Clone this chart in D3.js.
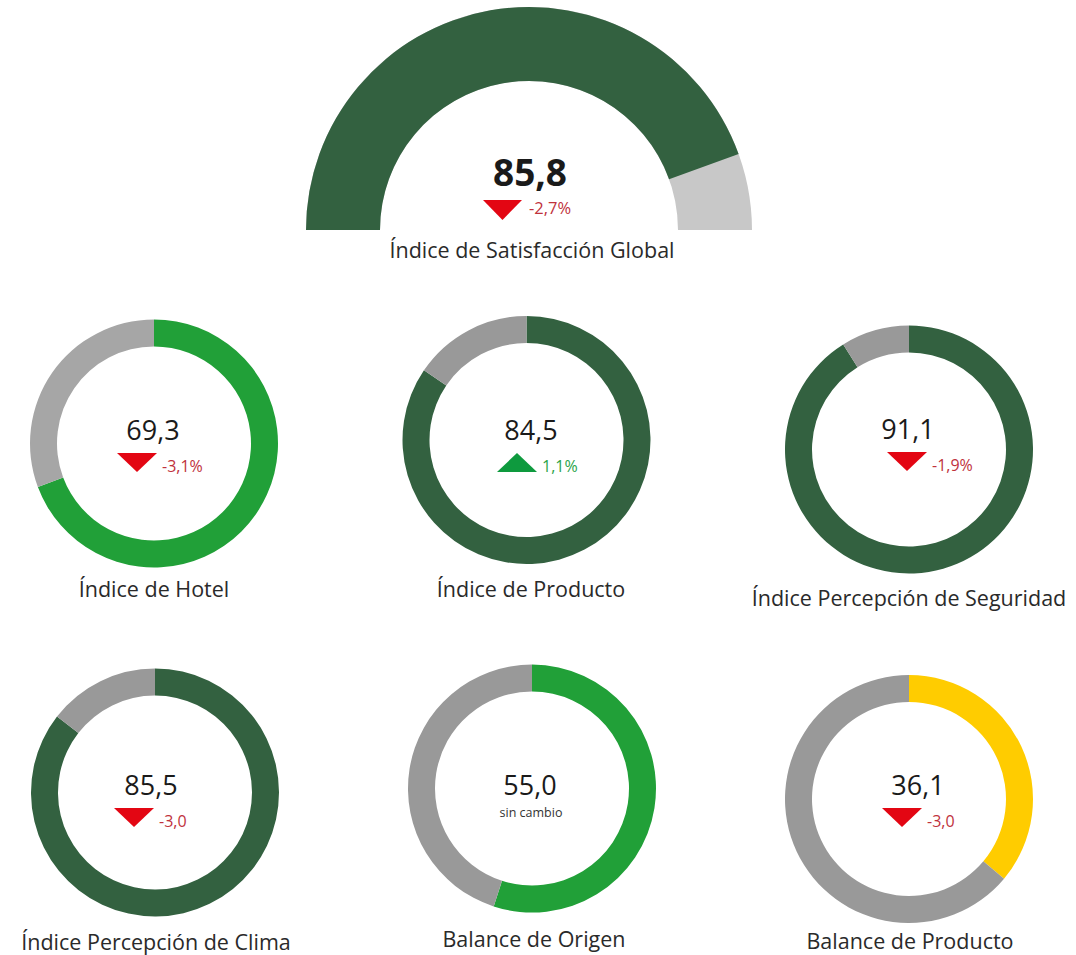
<!DOCTYPE html>
<meta charset="utf-8">
<style>
    body { margin: 0; background: #fff; }
    text { font-family: "Open Sans", "Noto Sans", sans-serif; }
</style>
<script src="https://d3js.org/d3.v7.min.js"></script>
<body>
<div id="chart"></div>
<script>
    // global gauge
    var globalName = "Índice de Satisfacción Global";
    var globalValue = 85.8;
    var globalChange = -2.7;
    var gaugeDomain = [0, 96.5]; // dial as drawn in the picture

    // small donuts
    var panelNames = ["Índice de Hotel", "Índice de Producto", "Índice Percepción de Seguridad",
        "Índice Percepción de Clima", "Balance de Origen", "Balance de Producto"];
    var panelValues = [69.3, 84.5, 91.1, 85.5, 55.0, 36.1];
    var panelChanges = [-3.1, 1.1, -1.9, -3.0, 0, -3.0];
    var panelUnits = ["%", "%", "%", "", "", ""];

    // layout (not data)
    var layout = [
        {cx: 154, cy: 443.5, tx: 153, triDx: -16, ty: 440, ly: 597, lx: 154, fill: "#21a038", rest: "#a6a6a6"},
        {cx: 526.5, cy: 440, tx: 531, triDx: -14, ty: 440, ly: 597, lx: 531, fill: "#336140", rest: "#999999"},
        {cx: 909, cy: 449.5, tx: 908, triDx: -1, ty: 439, ly: 606, lx: 909, fill: "#336140", rest: "#999999"},
        {cx: 155, cy: 792.5, tx: 151, triDx: -17, ty: 795, ly: 950, lx: 156, fill: "#336140", rest: "#999999"},
        {cx: 532, cy: 788.5, tx: 530, triDx: 0, ty: 795, ly: 947, lx: 534, fill: "#21a038", rest: "#999999"},
        {cx: 909, cy: 799, tx: 918, triDx: -16, ty: 795, ly: 949, lx: 910, fill: "#ffcc00", rest: "#999999"}
    ];

    var W = 1076, H = 955;
    var svg = d3.select("#chart").append("svg")
        .attr("width", W)
        .attr("height", H);

    var locale = d3.formatLocale({decimal: ",", thousands: ".", grouping: [3], currency: ["", "€"], minus: "-"});
    var fmt = locale.format(".1f");

    var red = "#e30613", redText = "#c0323c", upGreen = "#0e9a3e", upText = "#2aa44a";

    function triangle(g, x, yTop, w, h, up) {
        var p = up
            ? [[x - w / 2, yTop + h], [x + w / 2, yTop + h], [x, yTop]]
            : [[x - w / 2, yTop], [x + w / 2, yTop], [x, yTop + h]];
        g.append("path")
            .attr("d", d3.line()(p) + "Z")
            .attr("fill", up ? upGreen : red);
    }

    // ---- gauge ----
    var gx = 529, gy = 230;
    var ang = d3.scaleLinear().domain(gaugeDomain).range([-Math.PI / 2, Math.PI / 2]);
    var gArc = d3.arc().innerRadius(149).outerRadius(223);
    var gauge = svg.append("g").attr("transform", "translate(" + gx + "," + gy + ")");
    gauge.append("path")
        .attr("d", gArc({startAngle: ang(gaugeDomain[0]), endAngle: ang(gaugeDomain[1])}))
        .attr("fill", "#c8c8c8");
    gauge.append("path")
        .attr("d", gArc({startAngle: ang(gaugeDomain[0]), endAngle: ang(globalValue)}))
        .attr("fill", "#336140");

    svg.append("text")
        .attr("x", 530).attr("y", 186)
        .attr("text-anchor", "middle")
        .attr("font-size", 37).attr("font-weight", 700)
        .attr("fill", "#1a1a1a")
        .text(fmt(globalValue));
    triangle(svg, 502.5, 200, 39, 20, globalChange > 0);
    svg.append("text")
        .attr("x", 529).attr("y", 213.5)
        .attr("font-size", 16.5)
        .attr("fill", globalChange > 0 ? upText : redText)
        .text(fmt(globalChange) + "%");
    svg.append("text")
        .attr("x", 532).attr("y", 258)
        .attr("text-anchor", "middle")
        .attr("font-size", 21.5)
        .attr("fill", "#2a2a2a")
        .text(globalName);

    // ---- donuts ----
    var pie = d3.pie().sort(null).value(function(d) { return d; });
    var arc = d3.arc().innerRadius(97).outerRadius(124);

    panelValues.forEach(function(v, i) {
        var L = layout[i];
        var g = svg.append("g").attr("transform", "translate(" + L.cx + "," + L.cy + ")");
        g.selectAll("path")
            .data(pie([v, 100 - v]))
            .enter().append("path")
            .attr("d", arc)
            .attr("fill", function(d, j) { return j === 0 ? L.fill : L.rest; });

        svg.append("text")
            .attr("x", L.tx).attr("y", L.ty)
            .attr("text-anchor", "middle")
            .attr("font-size", 27)
            .attr("fill", "#1a1a1a")
            .text(fmt(v));

        var c = panelChanges[i];
        if (c === 0) {
            svg.append("text")
                .attr("x", L.tx + 1).attr("y", L.ty + 21.5)
                .attr("text-anchor", "middle")
                .attr("font-size", 12.5)
                .attr("fill", "#333")
                .text("sin cambio");
        } else {
            var tcx = L.tx + L.triDx;
            triangle(svg, tcx, L.ty + 13, 40, 19, c > 0);
            svg.append("text")
                .attr("x", tcx + 25).attr("y", L.ty + 31.5)
                .attr("font-size", 16)
                .attr("fill", c > 0 ? upText : redText)
                .text(fmt(c) + panelUnits[i]);
        }

        svg.append("text")
            .attr("x", L.lx).attr("y", L.ly)
            .attr("text-anchor", "middle")
            .attr("font-size", 21.5)
            .attr("fill", "#2a2a2a")
            .text(panelNames[i]);
    });
</script>
</body>
